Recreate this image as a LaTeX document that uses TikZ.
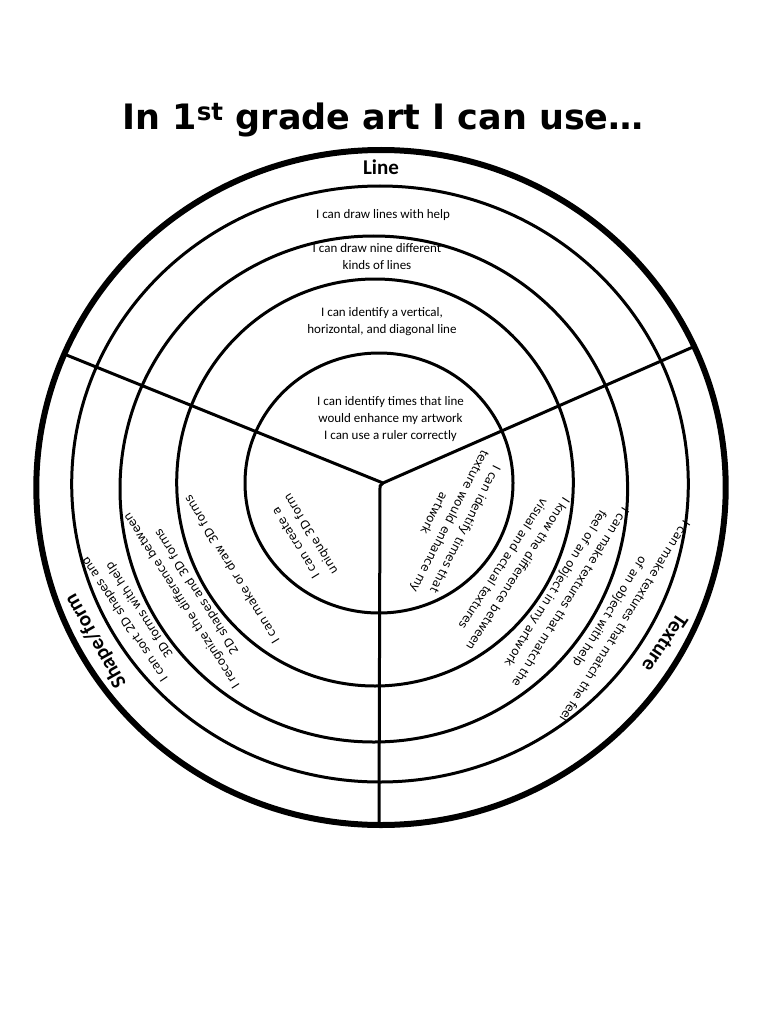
\documentclass[tikz,border=0pt]{standalone}
\usepackage{fontspec}
\newfontfamily\carlito{Carlito}
\newfontfamily\dejavu{DejaVu Sans}
\begin{document}
\begin{tikzpicture}[x=1pt,y=-1pt,
  ring/.style={line width=3pt},
  rim/.style={line width=6pt},
  divider/.style={line width=3pt},
  linetext/.style={font=\carlito\fontsize{13}{17}\selectfont, align=center, inner sep=0pt},
  rottext/.style={font=\dejavu\fontsize{11.8}{17.5}\selectfont, align=center, inner sep=0pt},
  head/.style={font=\carlito\bfseries\fontsize{21}{24}\selectfont, inner sep=0pt},
  titletext/.style={font=\dejavu\bfseries\fontsize{35}{40}\selectfont, inner sep=0pt}
]
\fill[white] (0,0) rectangle (768,1024);
\useasboundingbox (0,0) rectangle (768,1024);

% title
\node[titletext, anchor=base] (title) at (383,130) {In 1\textsuperscript{st} grade art I can use…};

% dividers
\coordinate (J) at (383,483);
\coordinate (Jv) at (380,486);
\coordinate (Lend) at (64,354);
\coordinate (Rend) at (693,347);
\coordinate (Bend) at (379,826);
\draw[divider, line join=round] (Lend) -- (J) -- (Rend);
\draw[divider, line join=round] (J) -- (Jv) -- (Bend);

% rings
\draw[ring] (379,483) ellipse [x radius=134pt, y radius=130pt];
\draw[ring] (375,482.5) ellipse [x radius=198.3pt, y radius=203.5pt];
\draw[ring] (373.8,489) ellipse [x radius=253.8pt, y radius=253pt];
\draw[ring] (380,484) ellipse [x radius=308.3pt, y radius=298pt];
\draw[rim] (381,487.5) ellipse [x radius=344.7pt, y radius=337.5pt];

% Line sector
\node[head] (linehead) at (381,167.5) {Line};
\node[linetext] (line1) at (383,215) {I can draw lines with help};
\node[linetext] (line2) at (377,257) {I can draw nine different\\kinds of lines};
\node[linetext] (line3) at (382,322) {I can identify a vertical,\\horizontal, and diagonal line};
\node[linetext] (line4) at (390.5,419.5) {I can identify times that line\\would enhance my artwork\\I can use a ruler correctly};

% Shape/form sector
\node[rottext, rotate=121.5] (shape1) at (304,538) {I can create a\\unique 3D form};
\node[rottext, rotate=121.5] (shape2) at (231.7,570) {I can make or draw 3D forms};
\node[rottext, rotate=122.5] (shape3) at (189.5,596) {I recognize the difference between\\2D shapes and 3D forms};
\node[rottext, rotate=123.5] (shape4) at (132.5,614.5) {I can sort 2D shapes and\\3D forms with help};
\node[head, rotate=119.5] (shapehead) at (95.8,640.8) {Shape/form};

% Texture sector
\node[rottext, rotate=243] (tex1) at (450,521.5) {I can identify times that\\texture would enhance my\\artwork};
\node[rottext, rotate=237] (tex2) at (511,569) {I know the difference between\\visual and actual textures};
\node[rottext, rotate=238] (tex3) at (562.5,592.5) {I can make textures that match the\\feel of an object in my artwork};
\node[rottext, rotate=238] (tex4) at (616.7,616.3) {I can make textures that match the feel\\of an object with help};
\node[head, rotate=236] (texhead) at (665,643.3) {Texture};
\end{tikzpicture}
\end{document}
